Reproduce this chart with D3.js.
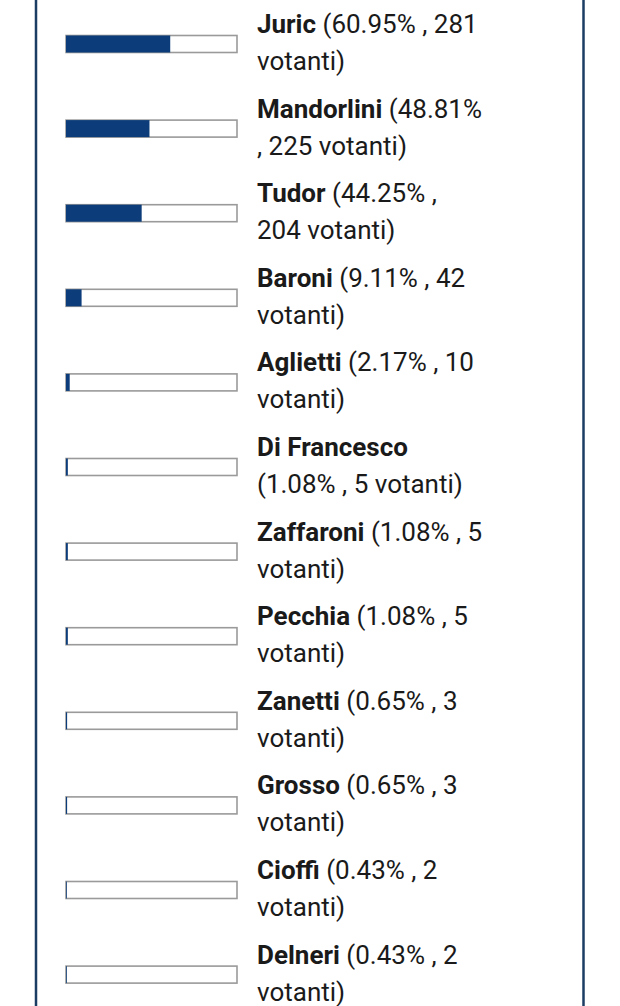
<!DOCTYPE html>
<html>
<head>
<meta charset="utf-8">
<script src="https://cdn.jsdelivr.net/npm/d3@7"></script>
<style>
  html, body { margin: 0; padding: 0; background: #fff; }
  svg { display: block; }
</style>
</head>
<body>
<div id="chart"></div>
<script>
// poll data
var names = ["Juric", "Mandorlini", "Tudor", "Baroni", "Aglietti", "Di Francesco",
  "Zaffaroni", "Pecchia", "Zanetti", "Grosso", "Cioffi", "Delneri"];
var percents = ["60.95", "48.81", "44.25", "9.11", "2.17", "1.08",
  "1.08", "1.08", "0.65", "0.65", "0.43", "0.43"];
var voters = [281, 225, 204, 42, 10, 5, 5, 5, 3, 3, 2, 2];

var svgWidth = 620;
var svgHeight = 1006;

var svg = d3.select("#chart").append("svg")
  .attr("width", svgWidth)
  .attr("height", svgHeight);

// frame lines left and right
svg.append("line")
  .attr("x1", 36).attr("x2", 36)
  .attr("y1", 0).attr("y2", svgHeight)
  .attr("stroke", "#1b3d63")
  .attr("stroke-width", 2.5);

svg.append("line")
  .attr("x1", 583.5).attr("x2", 583.5)
  .attr("y1", 0).attr("y2", svgHeight)
  .attr("stroke", "#1b3d63")
  .attr("stroke-width", 2.5);

// scales
var yScale = d3.scaleBand()
  .domain(names)
  .range([1.7, 1.7 + names.length * 84.6])
  .padding(0);

var xScale = d3.scaleLinear()
  .domain([0, 100])
  .range([66, 237]);

var barH = 17;
var rows = svg.selectAll(".row")
  .data(names)
  .enter()
  .append("g")
  .attr("class", "row")
  .attr("transform", d => `translate(0, ${yScale(d) + yScale.bandwidth() / 2})`);

// empty track
rows.append("rect")
  .attr("x", xScale(0))
  .attr("y", -barH / 2)
  .attr("width", xScale(100) - xScale(0))
  .attr("height", barH)
  .attr("fill", "#fff")
  .attr("stroke", "#9a9a9a")
  .attr("stroke-width", 1.6);

// filled part
rows.append("rect")
  .attr("x", xScale(0))
  .attr("y", -barH / 2)
  .attr("width", (d, i) => xScale(+percents[i]) - xScale(0))
  .attr("height", barH)
  .attr("fill", "#0c3d7a");

// labels, wrapped to a max width
var fontFam = "Roboto, 'Noto Sans', sans-serif";
var fontSize = 26;
var maxW = 227;
var textX = 257;

var tmp = svg.append("text")
  .attr("font-family", fontFam)
  .attr("font-size", fontSize);

function measure(str, bold) {
  tmp.attr("font-weight", bold ? 700 : 400).text(str);
  return tmp.node().getComputedTextLength();
}

var spaceW = measure("a a", false) - measure("aa", false);

rows.each(function(name, i) {
  var words = name.split(" ").map(w => ({ t: w, b: true }))
    .concat(["(" + percents[i] + "%", ",", String(voters[i]), "votanti)"]
      .map(w => ({ t: w, b: false })));

  var lines = [[]];
  var lineW = 0;
  words.forEach(function(w) {
    var ww = measure(w.t, w.b);
    var cur = lines[lines.length - 1];
    if (cur.length && lineW + spaceW + ww > maxW) {
      lines.push([w]);
      lineW = ww;
    } else {
      lineW += (cur.length ? spaceW : 0) + ww;
      cur.push(w);
    }
  });

  var g = d3.select(this);
  lines.forEach(function(line, li) {
    var txt = g.append("text")
      .attr("x", textX)
      .attr("y", -11 + li * 37)
      .attr("font-family", fontFam)
      .attr("font-size", fontSize)
      .attr("fill", "#1a1a1a")
      .attr("xml:space", "preserve");
    line.forEach(function(w, wi) {
      txt.append("tspan")
        .attr("font-weight", w.b ? 700 : 400)
        .text((wi ? " " : "") + w.t);
    });
  });
});

tmp.remove();
</script>
</body>
</html>
